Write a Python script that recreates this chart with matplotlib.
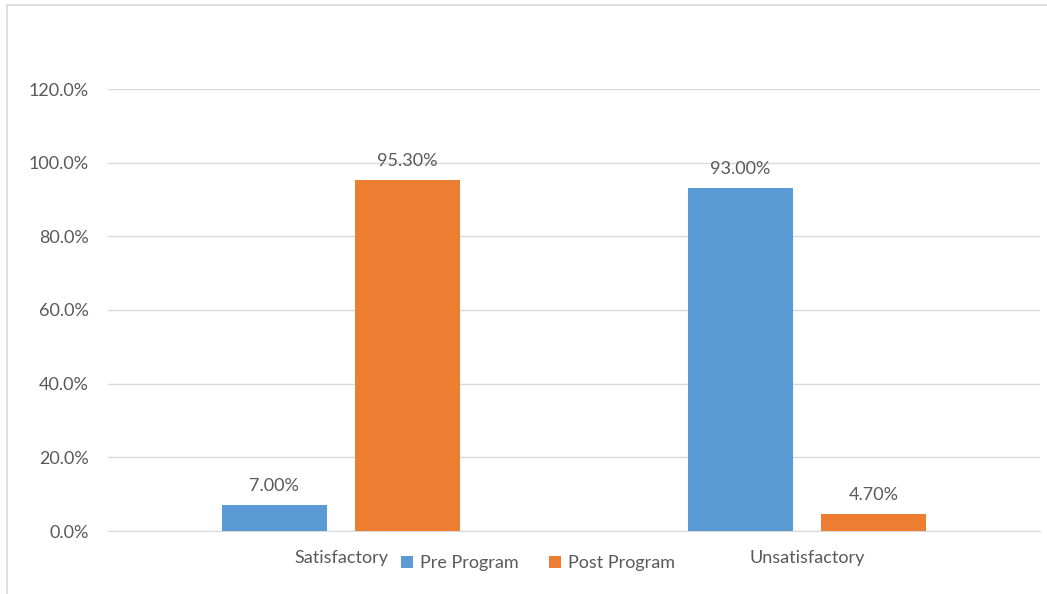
import numpy as np
import matplotlib.pyplot as plt
from matplotlib.patches import Rectangle
from matplotlib.ticker import FuncFormatter

categories = ['Satisfactory', 'Unsatisfactory']
series_names = ['Pre Program', 'Post Program']
pre_program = [7.0, 93.0]
post_program = [95.3, 4.7]
colors = ['#5B9BD5', '#ED7D31']

plt.rcParams['font.family'] = ['Lato', 'DejaVu Sans']
textColor = '#595959'

fig = plt.figure(figsize=(10.47, 5.94), dpi=100)
ax = fig.add_axes([108 / 1047, 1 - 531 / 594, 932 / 1047, 442 / 594])

# chart area border (only left/top visible in the crop)
fig.patches.append(Rectangle((7 / 1047, -0.1), 1.2, 1 - 5 / 594 + 0.1,
                             transform=fig.transFigure, fill=False,
                             edgecolor='#D9D9D9', linewidth=1.2))

x = np.arange(len(categories)) + 0.5
width = 0.225
offset = 0.143
allValues = [pre_program, post_program]
for i, values in enumerate(allValues):
    pos = x + (-offset if i == 0 else offset)
    bars = ax.bar(pos, values, width, color=colors[i], label=series_names[i], zorder=3)
    for b, v in zip(bars, values):
        ax.annotate('%.2f%%' % v, (b.get_x() + b.get_width() / 2, v),
                    xytext=(0, 8), textcoords='offset points',
                    ha='center', va='bottom', fontsize=13, color=textColor)

ax.set_xlim(0, 2)
ax.set_ylim(0, 120)
ax.set_yticks(np.arange(0, 121, 20))
ax.yaxis.set_major_formatter(FuncFormatter(lambda v, p: '%.1f%%' % v))
ax.set_xticks(x)
ax.set_xticklabels(categories)
ax.grid(axis='y', color='#D9D9D9', linewidth=1, zorder=0)
for s in ['top', 'right', 'left']:
    ax.spines[s].set_visible(False)
ax.spines['bottom'].set_color('#D9D9D9')
ax.tick_params(axis='both', length=0, labelsize=13, colors=textColor)
ax.tick_params(axis='y', pad=14)
ax.tick_params(axis='x', pad=14)

fig.legend(loc='center', bbox_to_anchor=(538 / 1047, 1 - 563 / 594), ncol=2,
           frameon=False, fontsize=13, labelcolor=textColor,
           handlelength=0.65, handleheight=0.65, handletextpad=0.4, columnspacing=1.7)

fig.savefig('out.png', dpi=100)
